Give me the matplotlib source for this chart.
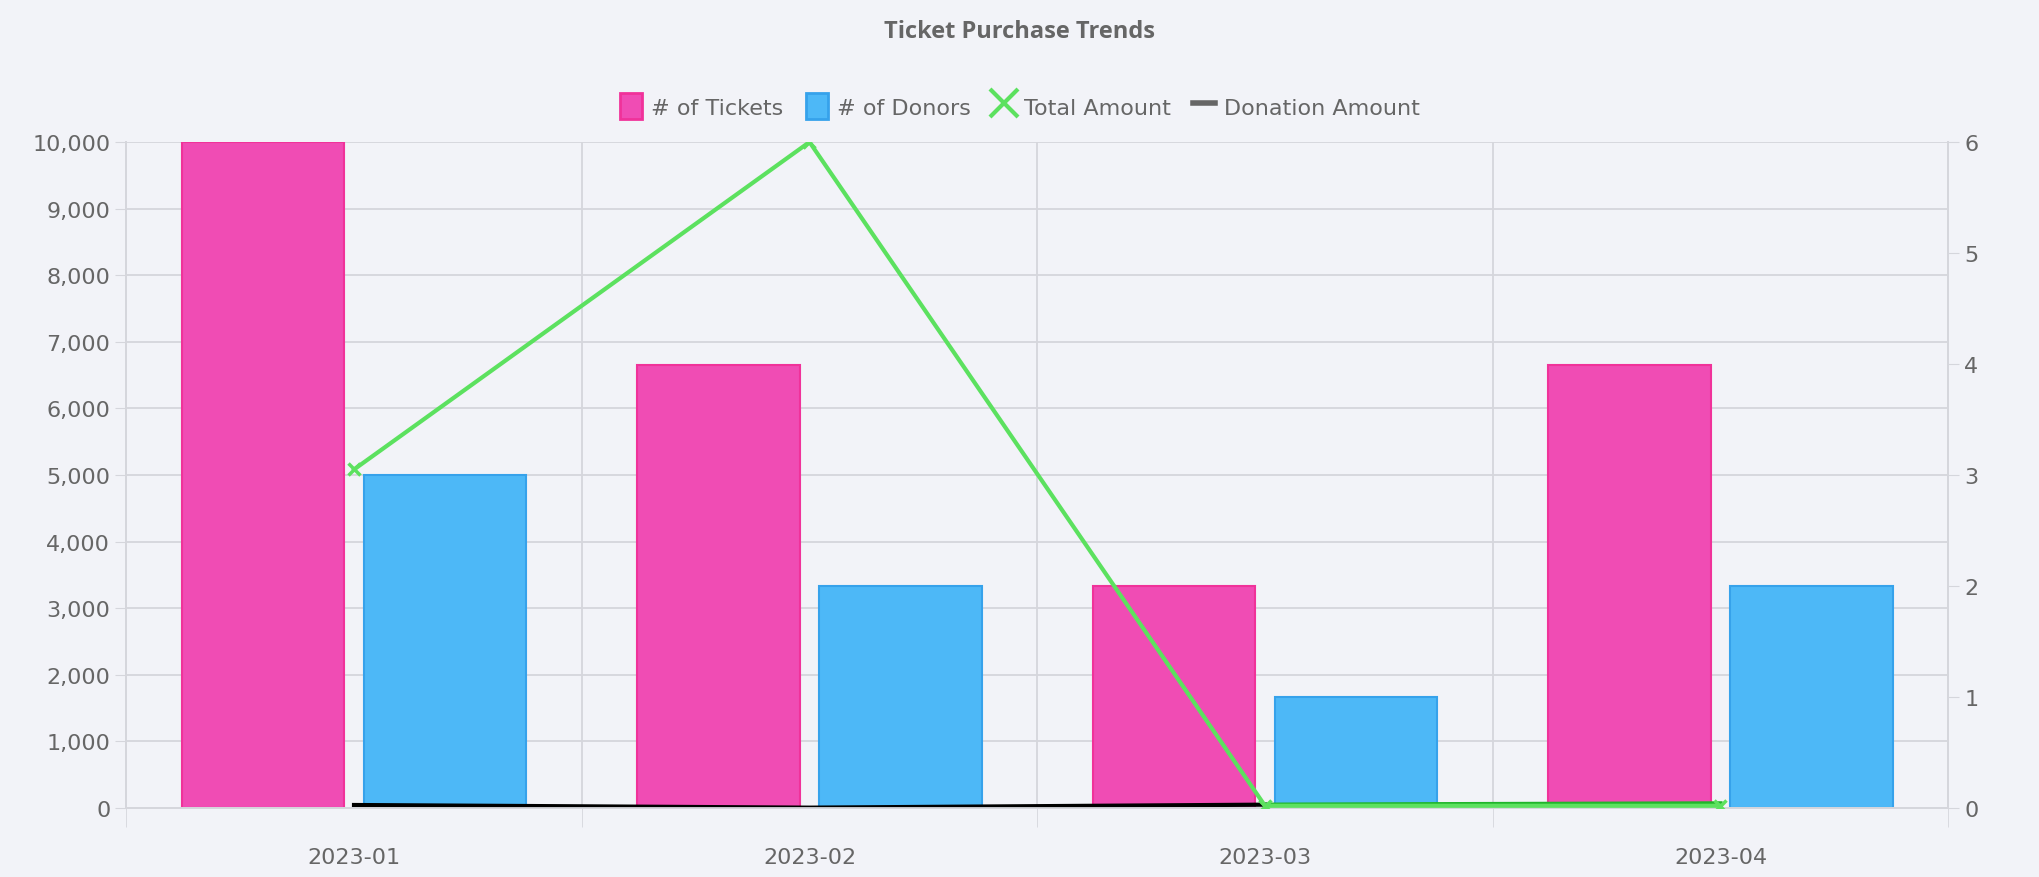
import numpy as np
import matplotlib.pyplot as plt
from matplotlib.lines import Line2D
from matplotlib.patches import Patch

months = ['2023-01', '2023-02', '2023-03', '2023-04']
tickets = [10000, 6650, 3330, 6650]
donors = [5000, 3330, 1660, 3330]
total_amount = [3.05, 6.0, 0.02, 0.02]
donation_amount = [45, 5, 50, 70]

bg = '#f2f3f8'
pink = '#f04cb4'
pink_edge = '#f0329a'
blue = '#4db8f7'
blue_edge = '#36a2eb'
green = '#5ce15f'
txt = '#666666'

fig = plt.figure(figsize=(20.4, 8.78), dpi=100, facecolor=bg)
ax = fig.add_axes([0.0619, 0.0786, 0.8931, 0.7585], facecolor=bg)
ax2 = ax.twinx()

x = np.arange(len(months))
w = 0.357
ax.bar(x - 0.2, tickets, w, color=pink, edgecolor=pink_edge, linewidth=1.5, zorder=2)
ax.bar(x + 0.2, donors, w, color=blue, edgecolor=blue_edge, linewidth=1.5, zorder=2)

# donation amount line on left axis
ax.plot(x[:3], donation_amount[:3], color='black', linewidth=3, zorder=3)
ax.plot(x[2:], donation_amount[2:], color='#1fb52a', linewidth=3, zorder=3)

ax2.plot(x, total_amount, color=green, linewidth=3, marker='x', markersize=9,
         markeredgewidth=2.5, zorder=4)

ax.set_xlim(-0.5, 3.5)
ax.set_ylim(0, 10000)
ax2.set_ylim(0, 6)
ax.set_yticks(range(0, 10001, 1000))
ax.set_yticklabels([f'{v:,}' for v in range(0, 10001, 1000)])
ax2.set_yticks(range(0, 7))
ax.set_xticks(x)
ax.set_xticklabels(months)
ax.set_xticks(np.arange(-0.5, 3.6, 1), minor=True)

ax.grid(axis='y', color='#d5d6dc', linewidth=1.3, zorder=0)
ax.grid(axis='x', which='minor', color='#d5d6dc', linewidth=1.3, zorder=0)
ax.tick_params(axis='x', which='major', length=0, pad=28, labelsize=16, labelcolor=txt)
ax.tick_params(axis='x', which='minor', length=14, color='#d5d6dc')
ax.tick_params(axis='y', length=8, color='#d5d6dc', labelsize=16, labelcolor=txt)
ax2.tick_params(axis='y', length=8, color='#d5d6dc', labelsize=16, labelcolor=txt)
for a in (ax, ax2):
    for s in ('top',):
        a.spines[s].set_visible(False)
    for s in ('left', 'right', 'bottom'):
        a.spines[s].set_color('#d5d6dc')
        a.spines[s].set_linewidth(1.3)
ax.set_axisbelow(True)

fig.text(0.5, 0.964, 'Ticket Purchase Trends', ha='center', va='center',
         fontsize=17, color=txt, fontweight='bold', family='Open Sans')

handles = [
    Patch(facecolor=pink, edgecolor=pink_edge, linewidth=2, label='# of Tickets'),
    Patch(facecolor=blue, edgecolor=blue_edge, linewidth=2, label='# of Donors'),
    Line2D([], [], color=green, marker='x', linestyle='none', markersize=20,
           markeredgewidth=3, label='Total Amount'),
    Line2D([], [], color=txt, linewidth=4, label='Donation Amount'),
]
fig.legend(handles=handles, loc='center', bbox_to_anchor=(0.5, 0.878), ncol=4,
           frameon=False, fontsize=16, labelcolor=txt, handlelength=1.0,
           handleheight=1.4, handletextpad=0.4, columnspacing=1.0)

fig.savefig('out.png', dpi=100, facecolor=bg)
